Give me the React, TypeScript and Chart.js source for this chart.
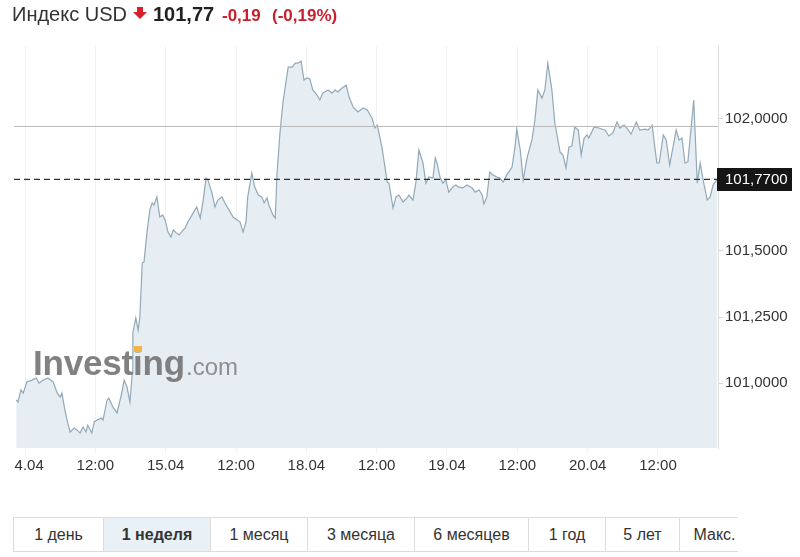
import React, { useEffect, useRef } from "react";
import { Chart, registerables } from "chart.js";

Chart.register(...registerables);

// trading hours since 14.04 00:00 (weekend skipped)
const hours = [
  -1.5, -1.2, -0.7, -0.3, 0.3, 1.2, 1.9, 2.4, 3.1, 3.9, 4.8, 5.5, 6.0, 6.3, 6.8, 7.3, 7.7, 8.4, 8.9, 9.4,
  9.9, 10.4, 10.7, 11.4, 11.8, 12.3, 13.0, 13.3, 14.0, 14.3, 15.0, 15.7, 16.5, 16.9, 17.4, 17.9, 18.3, 18.4, 18.9, 19.3,
  19.6, 20.0, 20.3, 20.8, 21.3, 21.7, 22.0, 22.5, 23.0, 23.5, 23.9, 24.4, 24.9, 25.3, 25.8, 26.3, 27.0, 27.3, 27.8, 28.5,
  29.0, 29.3, 29.9, 30.4, 30.9, 31.2, 31.9, 32.4, 32.9, 33.6, 34.1, 34.8, 35.5, 36.2, 36.7, 37.2, 37.7, 38.0, 38.7, 39.2,
  39.8, 40.4, 40.8, 41.3, 41.6, 42.3, 42.7, 43.0, 43.5, 44.0, 44.5, 44.9, 45.6, 46.1, 46.6, 47.1, 47.6, 48.1, 48.6, 49.1,
  49.8, 50.3, 50.8, 51.7, 52.4, 52.9, 53.4, 54.1, 54.8, 55.3, 56.0, 56.8, 57.7, 58.4, 59.2, 59.7, 60.1, 60.9, 61.8, 62.1,
  62.8, 63.3, 63.8, 64.5, 65.2, 65.5, 66.2, 66.7, 67.2, 67.9, 68.4, 68.9, 69.6, 70.0, 70.3, 70.8, 71.3, 71.8, 72.3, 73.0,
  73.5, 74.0, 74.7, 75.4, 76.3, 76.8, 77.5, 78.0, 78.3, 78.8, 79.3, 79.8, 80.5, 81.0, 81.6, 82.2, 83.1, 83.6, 83.9, 84.5,
  85.0, 85.7, 86.5, 87.0, 87.5, 88.2, 88.7, 89.2, 89.9, 90.4, 91.3, 91.8, 92.3, 92.8, 93.3, 93.8, 94.4, 94.9, 95.4, 95.9,
  96.2, 97.1, 97.9, 99.0, 99.6, 100.3, 101.0, 101.5, 102.2, 102.7, 103.4, 104.3, 104.9, 105.8, 106.3, 107.0, 107.8, 108.2, 108.9, 109.4,
  110.0, 111.1, 111.6, 112.1, 112.6, 113.1, 114.1, 114.7, 115.2, 115.7, 116.4, 116.9, 117.4, 118.1,
];

const prices = [
  100.937, 100.929, 100.975, 100.963, 101.005, 101.012, 101.02, 101.001, 101.012, 101.02, 101.005, 100.963, 100.948, 100.963, 100.899, 100.85, 100.816, 100.831, 100.823, 100.812,
  100.835, 100.816, 100.842, 100.812, 100.854, 100.861, 100.869, 100.861, 100.937, 100.944, 100.91, 100.888, 100.963, 101.012, 100.986, 100.929, 101.039, 101.19, 101.247, 101.201,
  101.25, 101.455, 101.458, 101.568, 101.655, 101.681, 101.673, 101.704, 101.628, 101.636, 101.617, 101.571, 101.552, 101.579, 101.568, 101.56, 101.579, 101.586, 101.609, 101.636,
  101.655, 101.666, 101.624, 101.692, 101.775, 101.768, 101.719, 101.666, 101.692, 101.704, 101.681, 101.655, 101.628, 101.617, 101.609, 101.571, 101.609, 101.704, 101.794, 101.741,
  101.711, 101.704, 101.681, 101.7, 101.673, 101.636, 101.624, 101.794, 101.945, 102.058, 102.134, 102.194, 102.194, 102.209, 102.209, 102.217, 102.145, 102.153, 102.149, 102.108,
  102.089, 102.07, 102.096, 102.108, 102.096, 102.108, 102.1, 102.115, 102.126, 102.081, 102.043, 102.025, 102.04, 102.032, 102.002, 101.964, 101.975, 101.892, 101.76, 101.756,
  101.662, 101.704, 101.711, 101.685, 101.7, 101.711, 101.692, 101.76, 101.881, 101.832, 101.756, 101.779, 101.775, 101.851, 101.832, 101.779, 101.756, 101.768, 101.722, 101.741,
  101.749, 101.741, 101.738, 101.749, 101.738, 101.722, 101.73, 101.711, 101.677, 101.704, 101.798, 101.787, 101.779, 101.775, 101.76, 101.787, 101.817, 101.892, 101.96, 101.881,
  101.768, 101.855, 101.919, 101.994, 102.108, 102.077, 102.108, 102.209, 102.108, 101.983, 101.873, 101.862, 101.813, 101.892, 101.896, 101.968, 101.956, 101.862, 101.926, 101.938,
  101.926, 101.968, 101.964, 101.956, 101.934, 101.945, 101.987, 101.964, 101.975, 101.964, 101.941, 101.987, 101.956, 101.96, 101.956, 101.975, 101.832, 101.832, 101.938, 101.919,
  101.824, 101.956, 101.919, 101.926, 101.832, 101.836, 102.07, 101.756, 101.832, 101.768, 101.692, 101.704, 101.749, 101.77,
];

const xTickHours = [0, 12, 24, 36, 48, 60, 72, 84, 96, 108];
const xTickLabels = ["14.04", "12:00", "15.04", "12:00", "18.04", "12:00", "19.04", "12:00", "20.04", "12:00"];
const yTickValues = [101, 101.25, 101.5, 102];
const currentValue = 101.77;
const prevClose = 101.97;
const xMin = -1.88;
const xMax = 118.24;
const yMin = 100.7557;
const yMax = 102.2738;
const periods = ["1 день", "1 неделя", "1 месяц", "3 месяца", "6 месяцев", "1 год", "5 лет", "Макс."];
const periodWidths = [90, 107, 97, 107, 114, 77, 74, 70];
const activePeriod = 1;

const FONT = 'Arial, "Liberation Sans", sans-serif';
const fmt = (v: number) => v.toFixed(4).replace(".", ",");

const currentLabelPlugin = {
  id: "currentLabel",
  afterDraw(chart: any) {
    const ctx = chart.ctx;
    const y = chart.scales.y.getPixelForValue(currentValue);
    const x = chart.chartArea.right;
    ctx.save();
    ctx.fillStyle = "#151515";
    ctx.fillRect(x - 1, Math.round(y) - 11, 75, 23);
    ctx.fillStyle = "#ffffff";
    ctx.font = `15px ${FONT}`;
    ctx.textBaseline = "middle";
    ctx.textAlign = "left";
    ctx.fillText(fmt(currentValue), x + 7, Math.round(y) + 1);
    ctx.restore();
  },
};

export default function App() {
  const ref = useRef<HTMLCanvasElement | null>(null);

  useEffect(() => {
    if (!ref.current) return;
    const chart = new Chart(ref.current, {
      type: "line",
      data: {
        datasets: [
          {
            data: [{ x: xMin, y: currentValue }, { x: xMax, y: currentValue }],
            borderColor: "#333333",
            borderWidth: 1.3,
            borderDash: [6, 4],
            pointRadius: 0,
            fill: false,
            order: 1,
          },
          {
            data: [{ x: xMin, y: prevClose }, { x: xMax, y: prevClose }],
            borderColor: "#b9b9b9",
            borderWidth: 1,
            pointRadius: 0,
            fill: false,
            order: 2,
          },
          {
            data: hours.map((h, i) => ({ x: h, y: prices[i] })),
            borderColor: "#93a9b8",
            borderWidth: 1.2,
            backgroundColor: "#e6eef4",
            fill: "start",
            pointRadius: 0,
            tension: 0,
            order: 3,
          },
        ],
      },
      options: {
        animation: false,
        responsive: false,
        maintainAspectRatio: false,
        events: [],
        layout: { padding: { top: 46, left: 0, right: 0, bottom: 0 }, autoPadding: false },
        plugins: { legend: { display: false }, tooltip: { enabled: false } },
        scales: {
          x: {
            type: "linear",
            min: xMin,
            max: xMax,
            afterBuildTicks: (s: any) => {
              s.ticks = xTickHours.map((v) => ({ value: v }));
            },
            afterFit: (s: any) => {
              s.height = 52;
              s.paddingLeft = 0;
              s.paddingRight = 0;
            },
            ticks: {
              autoSkip: false,
              maxRotation: 0,
              padding: 4,
              color: "#333333",
              font: { family: FONT, size: 15 },
              callback: (_v: any, i: number) => xTickLabels[i],
            },
            grid: { color: "rgba(0,0,0,0.05)", tickLength: 5, drawTicks: true },
            border: { display: false },
          },
          y: {
            position: "right",
            min: yMin,
            max: yMax,
            afterBuildTicks: (s: any) => {
              s.ticks = yTickValues.map((v) => ({ value: v }));
            },
            afterFit: (s: any) => {
              s.width = 82;
              s.paddingTop = 0;
              s.paddingBottom = 0;
            },
            ticks: {
              padding: 2,
              color: "#333333",
              font: { family: FONT, size: 15 },
              callback: (v: any) => fmt(Number(v)),
            },
            grid: { drawOnChartArea: false, tickLength: 5, color: "#d8d8d8" },
            border: { display: true, color: "#dddddd" },
          },
        },
      } as any,
      plugins: [currentLabelPlugin],
    });
    return () => chart.destroy();
  }, []);

  let acc = 13;
  const cells = periods.map((p, i) => {
    const left = acc;
    acc += periodWidths[i];
    return (
      <div
        key={p}
        style={{
          position: "absolute",
          left: left - 13,
          top: 0,
          width: periodWidths[i],
          height: 35,
          boxSizing: "border-box",
          borderRight: "1px solid #dcdcdc",
          background: i === activePeriod ? "#e9f0f6" : "#ffffff",
          fontWeight: i === activePeriod ? "bold" : "normal",
          color: "#333",
          fontSize: 16,
          lineHeight: "33px",
          textAlign: "center",
          whiteSpace: "nowrap",
        }}
      >
        {p}
      </div>
    );
  });

  return (
    <div
      style={{
        position: "fixed",
        left: 0,
        top: 0,
        width: 800,
        height: 557,
        background: "#fff",
        overflow: "hidden",
        fontFamily: FONT,
      }}
    >
      <canvas ref={ref} width={786} height={500} style={{ position: "absolute", left: 14, top: 0 }} />

      {/* header */}
      <div style={{ position: "absolute", left: 12, top: 4, fontSize: 20, lineHeight: "20px", color: "#333", whiteSpace: "nowrap" }}>
        Индекс USD
      </div>
      <svg width={16} height={14} style={{ position: "absolute", left: 133, top: 7 }}>
        <polygon points="4,0 10,0 10,5 14,5 7,12 0,5 4,5" fill="#d6202a" />
      </svg>
      <div style={{ position: "absolute", left: 153, top: 4, fontSize: 20, lineHeight: "20px", fontWeight: "bold", color: "#222", whiteSpace: "nowrap" }}>
        101,77
      </div>
      <div style={{ position: "absolute", left: 222, top: 7, fontSize: 17, lineHeight: "17px", fontWeight: "bold", color: "#c8202c", whiteSpace: "nowrap" }}>
        -0,19
      </div>
      <div style={{ position: "absolute", left: 272, top: 7, fontSize: 17, lineHeight: "17px", fontWeight: "bold", color: "#c8202c", whiteSpace: "nowrap" }}>
        (-0,19%)
      </div>

      {/* watermark */}
      <div style={{ position: "absolute", left: 33, top: 345, fontSize: 35, lineHeight: "35px", fontWeight: "bold", color: "rgba(118,118,118,0.92)", letterSpacing: -0.2, whiteSpace: "nowrap" }}>
        Inves<span>t</span><span style={{ position: "relative" }}>i<span style={{ position: "absolute", left: 1, top: 3, width: 8, height: 6, background: "#f2b447" }} /></span>ng
      </div>
      <div style={{ position: "absolute", left: 186, top: 355, fontSize: 24, lineHeight: "24px", color: "rgba(135,135,135,0.92)", whiteSpace: "nowrap" }}>
        .com
      </div>

      {/* period buttons */}
      <div
        style={{
          position: "absolute",
          left: 13,
          top: 517,
          width: 725,
          height: 35,
          boxSizing: "border-box",
          borderTop: "1px solid #dcdcdc",
          borderBottom: "1px solid #dcdcdc",
          borderLeft: "1px solid #dcdcdc",
          overflow: "hidden",
        }}
      >
        {cells}
      </div>
    </div>
  );
}
